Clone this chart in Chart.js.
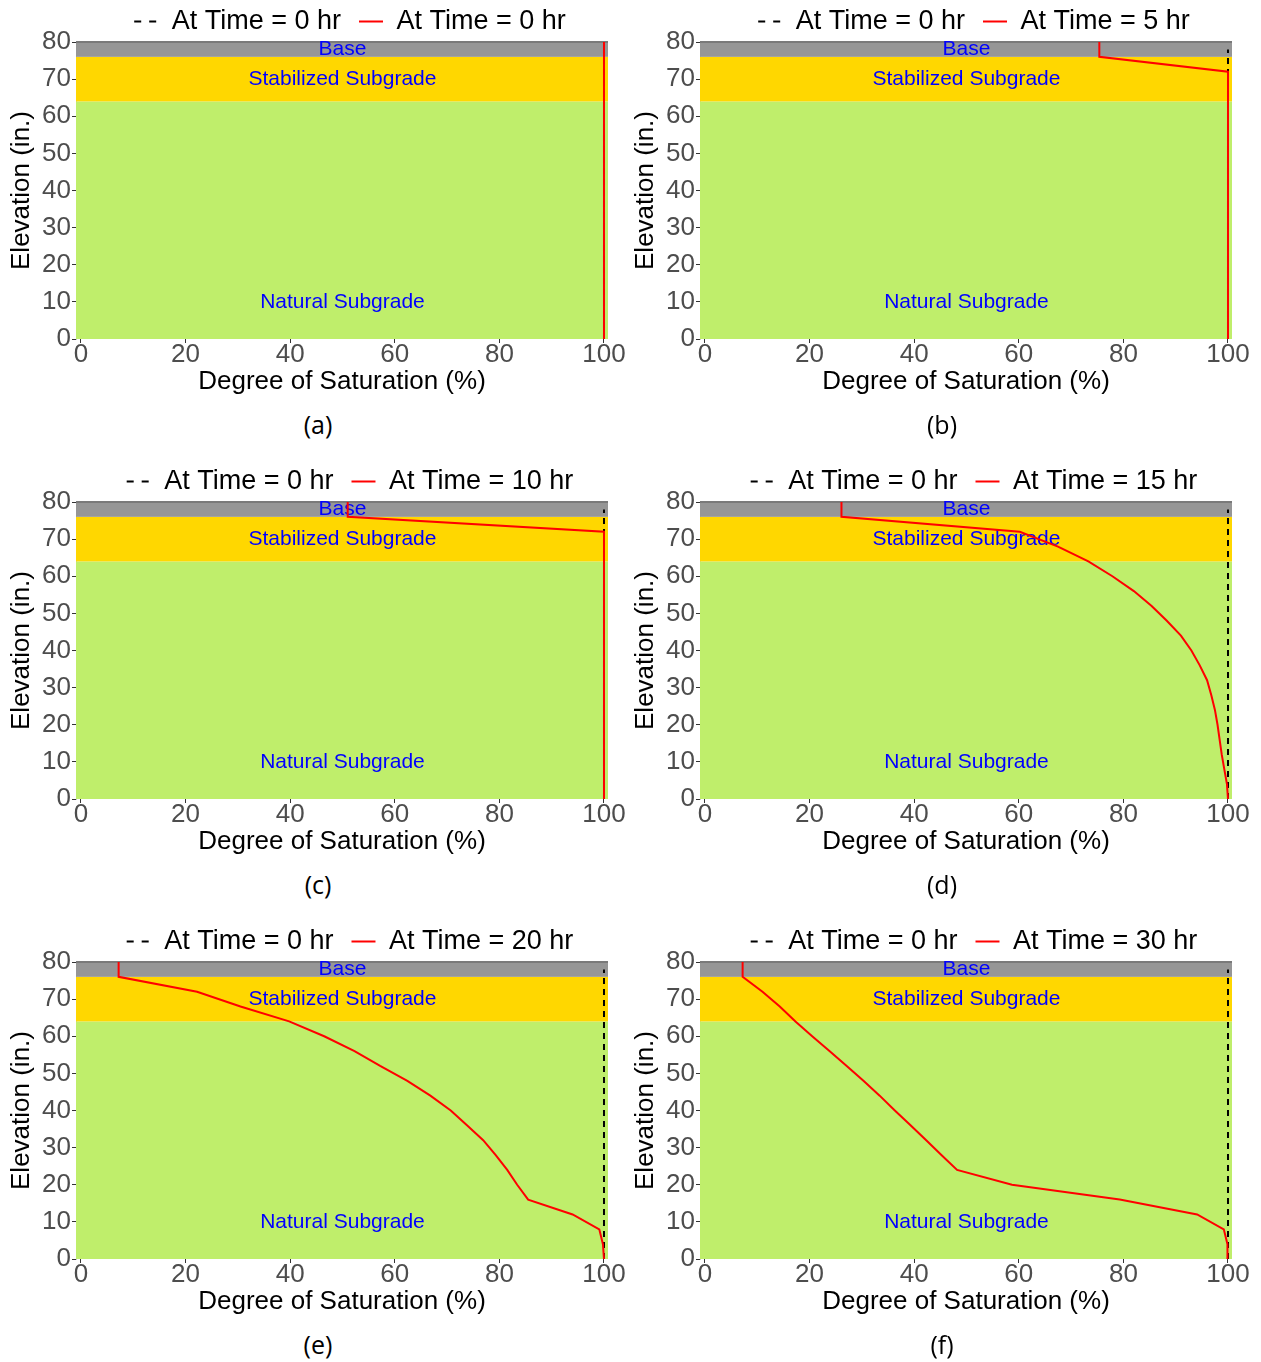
<!DOCTYPE html>
<html>
<head>
<meta charset="utf-8">
<script src="https://cdn.jsdelivr.net/npm/chart.js@4.4.0/dist/chart.umd.min.js"></script>
<style>
    body { margin: 0; background: #fff; width: 1261px; height: 1362px; position: relative; overflow: hidden; }
    .panel { position: absolute; width: 630px; height: 400px; }
    .caption { position: absolute; width: 630px; text-align: center; font-family: 'Open Sans', sans-serif; font-size: 25px; line-height: 30px; color: #000; }
</style>
</head>
<body>
<script>
// 節点の標高 (in.)
const elevation = [0, 4, 8, 12, 16, 20, 24, 28, 32, 36, 40, 44, 48, 52, 56, 60, 64, 68, 72, 76, 80];

// 各時刻の飽和度 (%)
const sat0hr  = [100, 100, 100, 100, 100, 100, 100, 100, 100, 100, 100, 100, 100, 100, 100, 100, 100, 100, 100, 100, 100];
const sat5hr  = [100, 100, 100, 100, 100, 100, 100, 100, 100, 100, 100, 100, 100, 100, 100, 100, 100, 100, 100, 75.4, 75.4];
const sat10hr = [100, 100, 100, 100, 100, 100, 100, 100, 100, 100, 100, 100, 100, 100, 100, 100, 100, 100, 100, 51.0, 51.0];
const sat15hr = [100, 99.8, 99.3, 98.8, 98.4, 98.0, 97.5, 96.8, 96.0, 94.6, 93.0, 91.0, 88.3, 85.4, 82.0, 77.9, 73.3, 67.5, 60.2, 26.1, 26.1];
const sat20hr = [100, 99.8, 99.1, 94.0, 85.5, 83.4, 81.5, 79.3, 76.9, 73.8, 70.7, 66.8, 62.4, 57.2, 52.3, 46.5, 39.8, 30.5, 22.2, 7.2, 7.2];
const sat30hr = [100, 99.9, 99.2, 94.1, 79.3, 58.7, 48.2, 45.2, 42.3, 39.3, 36.3, 33.4, 30.3, 27.1, 23.8, 20.5, 17.3, 14.3, 11.0, 7.2, 7.2];

// 初期状態 (破線)
const initElevation = [0, 78];
const initSat = [100, 100];

// 層構成
const layerNames = ['Natural Subgrade', 'Stabilized Subgrade', 'Base'];
const layerBottom = [0, 64, 76];
const layerTop = [64, 76, 80];
const layerLabelY = [10, 70, 78];
const layerColors = ['#bfee6b', '#ffd700', '#969696'];

// 目盛り
const xTicks = [0, 20, 40, 60, 80, 100];
const yTicks = [0, 10, 20, 30, 40, 50, 60, 70, 80];

const panelTimes = [0, 5, 10, 15, 20, 30];
const panelSats = [sat0hr, sat5hr, sat10hr, sat15hr, sat20hr, sat30hr];
const panelCaptions = ['(a)', '(b)', '(c)', '(d)', '(e)', '(f)'];

Chart.defaults.font.family = "'Liberation Sans', Arial, sans-serif";

// 層の塗りつぶしとラベル
const layerPlugin = {
    id: 'layers',
    beforeLayout(chart) {
        // 凡例の高さを少し詰め、少し右へ寄せる
        const lg = chart.legend;
        if (lg && !lg._trimmed) {
            const fit = lg.fit;
            lg.fit = function() {
                fit.call(this);
                this.height -= 3;
            };
            const draw = lg.draw;
            lg.draw = function(area) {
                this.ctx.save();
                this.ctx.translate(8, 0);
                draw.call(this, area);
                this.ctx.restore();
            };
            lg._trimmed = true;
        }
    },
    beforeDatasetsDraw(chart) {
        const {ctx, chartArea, scales} = chart;
        ctx.save();
        layerNames.forEach((name, i) => {
            const yTop = scales.y.getPixelForValue(layerTop[i]);
            const yBot = scales.y.getPixelForValue(layerBottom[i]);
            ctx.fillStyle = layerColors[i];
            ctx.fillRect(chartArea.left, yTop, chartArea.right - chartArea.left, yBot - yTop);
        });
        ctx.strokeStyle = '#7a7a7a';
        ctx.lineWidth = 2;
        ctx.beginPath();
        ctx.moveTo(chartArea.left, chartArea.top);
        ctx.lineTo(chartArea.right, chartArea.top);
        ctx.stroke();

        ctx.fillStyle = '#0000ff';
        ctx.font = "21px 'Liberation Sans', Arial, sans-serif";
        ctx.textAlign = 'center';
        ctx.textBaseline = 'middle';
        layerNames.forEach((name, i) => {
            ctx.fillText(name, scales.x.getPixelForValue(50), scales.y.getPixelForValue(layerLabelY[i]));
        });
        ctx.restore();
    }
};

function createPanel(index) {
    const col = index % 2;
    const row = Math.floor(index / 2);
    const left = col === 0 ? 0 : 624;
    const top = row * 460;

    const div = document.createElement('div');
    div.className = 'panel';
    div.style.left = left + 'px';
    div.style.top = top + 'px';
    const canvas = document.createElement('canvas');
    canvas.width = 630;
    canvas.height = 400;
    div.appendChild(canvas);
    document.body.appendChild(div);

    const cap = document.createElement('div');
    cap.className = 'caption';
    cap.style.left = (left + 3) + 'px';
    cap.style.top = (top + 409) + 'px';
    cap.textContent = panelCaptions[index];
    document.body.appendChild(cap);

    const sat = panelSats[index];

    new Chart(canvas.getContext('2d'), {
        type: 'scatter',
        data: {
            datasets: [
                {
                    label: 'At Time = ' + panelTimes[index] + ' hr',
                    data: elevation.map((e, i) => ({x: sat[i], y: e})),
                    showLine: true,
                    borderColor: '#ff0000',
                    borderWidth: 2,
                    pointRadius: 0
                },
                {
                    label: 'At Time = 0 hr',
                    data: initElevation.map((e, i) => ({x: initSat[i], y: e})),
                    showLine: true,
                    borderColor: '#000000',
                    borderWidth: 2,
                    borderDash: [6, 5],
                    pointRadius: 0
                }
            ]
        },
        options: {
            responsive: false,
            animation: false,
            layout: {
                padding: {top: -10, right: 22, bottom: 0, left: 0}
            },
            plugins: {
                tooltip: {enabled: false},
                legend: {
                    display: true,
                    position: 'top',
                    fullSize: false,
                    labels: {
                        usePointStyle: true,
                        pointStyle: 'line',
                        pointStyleWidth: 24,
                        padding: 18,
                        color: '#000000',
                        font: {size: 27},
                        // 破線を先に並べる
                        sort: (a, b) => b.datasetIndex - a.datasetIndex,
                        generateLabels: function(chart) {
                            const items = Chart.defaults.plugins.legend.labels.generateLabels(chart);
                            items.forEach(item => {
                                if (item.datasetIndex === 1) item.lineDash = [7, 8];
                            });
                            return items;
                        }
                    }
                }
            },
            scales: {
                x: {
                    type: 'linear',
                    position: 'bottom',
                    min: -0.95,
                    max: 100.766,
                    afterBuildTicks: scale => { scale.ticks = xTicks.map(v => ({value: v})); },
                    afterFit: scale => { scale.height = 61; },
                    grid: {drawOnChartArea: false, drawTicks: true, tickLength: 4, color: '#333333'},
                    border: {display: false},
                    ticks: {color: '#4d4d4d', font: {size: 26}, padding: -4, maxRotation: 0},
                    title: {display: true, text: 'Degree of Saturation (%)', color: '#000000', font: {size: 26}, padding: {top: 0, bottom: 3}}
                },
                y: {
                    type: 'linear',
                    min: 0,
                    max: 80,
                    afterBuildTicks: scale => { scale.ticks = yTicks.map(v => ({value: v})); },
                    afterFit: scale => { scale.width = 76; },
                    grid: {drawOnChartArea: false, drawTicks: true, tickLength: 4, color: '#333333'},
                    border: {display: true, color: '#c8c8c8', width: 1},
                    ticks: {color: '#4d4d4d', font: {size: 26}, padding: 1},
                    title: {display: true, text: 'Elevation (in.)', color: '#000000', font: {size: 26}, padding: {top: 6, bottom: 0}}
                }
            }
        },
        plugins: [layerPlugin]
    });
}

panelTimes.forEach((t, i) => createPanel(i));
</script>
</body>
</html>
